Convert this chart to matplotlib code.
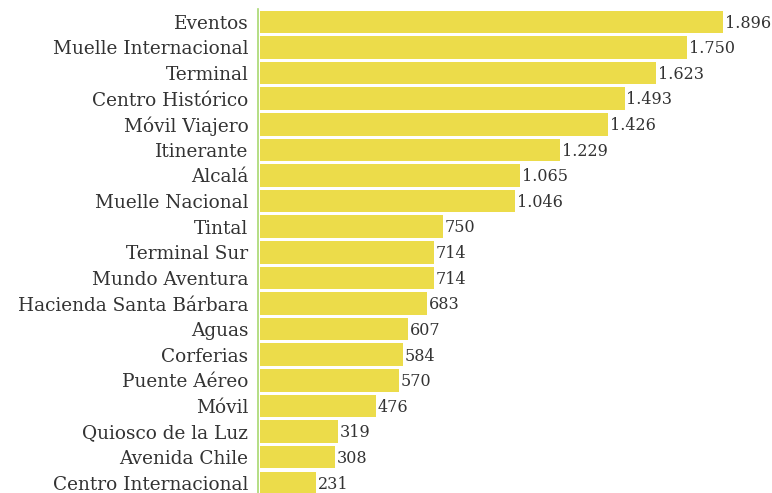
import matplotlib.pyplot as plt

categories = ['Eventos', 'Muelle Internacional', 'Terminal', 'Centro Histórico',
              'Móvil Viajero', 'Itinerante', 'Alcalá', 'Muelle Nacional', 'Tintal',
              'Terminal Sur', 'Mundo Aventura', 'Hacienda Santa Bárbara', 'Aguas',
              'Corferias', 'Puente Aéreo', 'Móvil', 'Quiosco de la Luz',
              'Avenida Chile', 'Centro Internacional']
values = [1896, 1750, 1623, 1493, 1426, 1229, 1065, 1046, 750, 714, 714, 683,
          607, 584, 570, 476, 319, 308, 231]

plt.rcParams['font.family'] = ['DejaVu Serif']

fig = plt.figure(figsize=(7.72, 4.93), dpi=100)
ax = fig.add_axes([258 / 772, -2.6 / 493, 514 / 772, 486.6 / 493])

pos = list(range(len(categories)))
ax.barh(pos, values, height=0.88, color='#ecdc4a', left=8)
ax.set_ylim(len(categories) - 0.5, -0.5)
ax.set_xlim(0, 2105)

for p, v in zip(pos, values):
    label = f'{v:,}'.replace(',', '.')
    ax.text(v + 8 + 7, p + 0.05, label, va='center', ha='left', fontsize=11.5, color='#333333')

ax.set_yticks(pos)
ax.set_yticklabels(categories, fontsize=13.3, color='#333333')
ax.tick_params(axis='y', length=0, pad=7)
ax.set_xticks([])
for s in ['top', 'right', 'bottom']:
    ax.spines[s].set_visible(False)
ax.spines['left'].set_color('#a8d870')
ax.spines['left'].set_linewidth(1.2)

fig.savefig('out.png', dpi=100)
